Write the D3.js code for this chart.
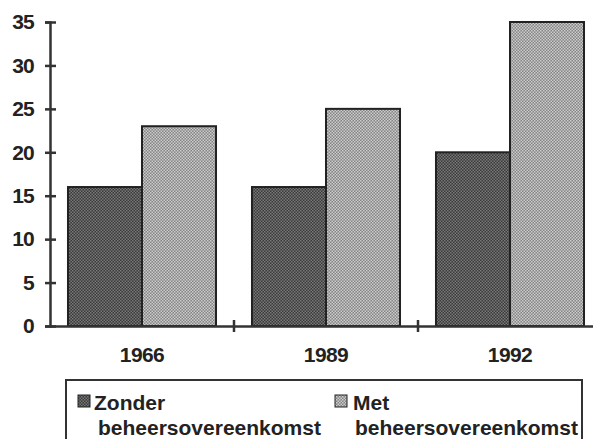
<!DOCTYPE html>
<html>
<head>
<meta charset="utf-8">
<script src="https://cdn.jsdelivr.net/npm/d3@7"></script>
<style>
  body { margin: 0; background: #fff; }
  svg { display: block; }
  text { font-family: "Liberation Sans", Arial, sans-serif; font-weight: bold; fill: #222; }
</style>
</head>
<body>
<div id="chart"></div>
<script>
// data
var years = ["1966", "1989", "1992"];
var zonder = [16, 16, 20];
var met = [23, 25, 35];
var seriesNames = [["Zonder", "beheersovereenkomst"], ["Met", "beheersovereenkomst"]];
var yTicks = [0, 5, 10, 15, 20, 25, 30, 35];

var width = 593, height = 439;
var svg = d3.select("#chart").append("svg").attr("width", width).attr("height", height);

var defs = svg.append("defs");
function dither(id, base, dot) {
  var p = defs.append("pattern").attr("id", id)
    .attr("width", 3).attr("height", 3).attr("patternUnits", "userSpaceOnUse");
  p.append("rect").attr("width", 3).attr("height", 3).attr("fill", base);
  p.append("rect").attr("x", 0).attr("y", 0).attr("width", 1.5).attr("height", 1.5).attr("fill", dot);
  p.append("rect").attr("x", 1.5).attr("y", 1.5).attr("width", 1.5).attr("height", 1.5).attr("fill", dot);
}
dither("patDark", "#3a3a3a", "#787878");
dither("patLight", "#858585", "#cccccc");

var x0 = 50, x1 = 602, yTop = 22, yBase = 326;

var x = d3.scaleBand().domain(years).range([x0, x1]).paddingInner(0).paddingOuter(0);
var xs = d3.scaleBand().domain([0, 1]).range([0, x.bandwidth()]).paddingOuter(0.243).paddingInner(0);
var y = d3.scaleLinear().domain([0, 35]).range([yBase, yTop]);

var g = svg.append("g");
var fills = ["url(#patDark)", "url(#patLight)"];
[zonder, met].forEach(function(vals, s) {
  g.selectAll(".bar" + s).data(years).enter().append("rect")
    .attr("x", function(d) { return x(d) + xs(s); })
    .attr("y", function(d, i) { return y(vals[i]); })
    .attr("width", xs.bandwidth())
    .attr("height", function(d, i) { return yBase - y(vals[i]); })
    .attr("fill", fills[s])
    .attr("stroke", "#222")
    .attr("stroke-width", 2);
});

// y axis
var yAxis = svg.append("g").attr("transform", "translate(" + x0 + ",0)")
  .call(d3.axisLeft(y).tickValues(yTicks).tickSize(5).tickPadding(11));
yAxis.select(".domain").attr("stroke", "#333").attr("stroke-width", 2.5);
yAxis.selectAll(".tick line").attr("stroke", "#333").attr("stroke-width", 2.5).attr("x1", -5).attr("x2", 6);
yAxis.selectAll(".tick text").style("font-size", "21px").style("letter-spacing", "-0.8px").attr("fill", "#222");

// x axis
var xAxis = svg.append("g").attr("transform", "translate(0," + yBase + ")")
  .call(d3.axisBottom(x).tickSize(0).tickPadding(21));
xAxis.select(".domain").attr("stroke", "#333").attr("stroke-width", 2.5);
xAxis.selectAll(".tick text").style("font-size", "21px").style("letter-spacing", "-0.6px").attr("fill", "#222");
xAxis.selectAll(".sep").data(years.slice(1)).enter().append("line")
  .attr("x1", function(d) { return x(d); }).attr("x2", function(d) { return x(d); })
  .attr("y1", -6).attr("y2", 6).attr("stroke", "#333").attr("stroke-width", 2.5);

// legend
var lg = svg.append("g");
lg.append("rect").attr("x", 66).attr("y", 380).attr("width", 516).attr("height", 70)
  .attr("fill", "none").attr("stroke", "#333").attr("stroke-width", 2);
var legX = [78, 335];
var line1X = [94, 353], line2X = [98, 355];
seriesNames.forEach(function(nm, i) {
  lg.append("rect").attr("x", legX[i]).attr("y", 395).attr("width", 12).attr("height", 12)
    .attr("fill", fills[i]).attr("stroke", "#222").attr("stroke-width", 1);
  lg.append("text").attr("x", line1X[i]).attr("y", 410).style("font-size", "21px").text(nm[0]);
  lg.append("text").attr("x", line2X[i]).attr("y", 435).style("font-size", "21px").text(nm[1]);
});
</script>
</body>
</html>
